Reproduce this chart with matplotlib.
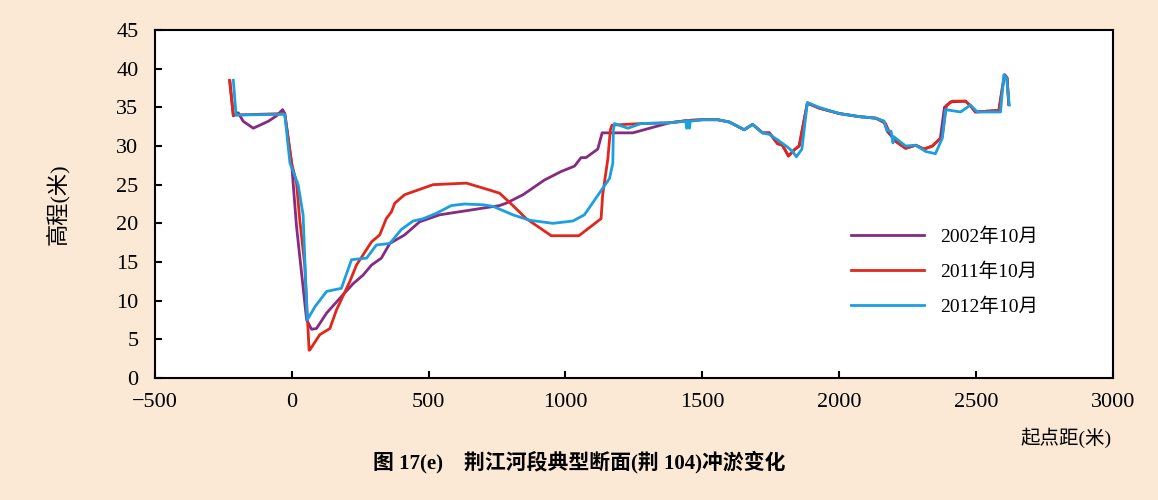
import matplotlib
matplotlib.use("Agg")
import matplotlib.pyplot as plt

plt.rcParams['font.family'] = ['Liberation Serif', 'Noto Sans CJK SC', 'DejaVu Sans']

# 2002年10月
x2002 = [-226, -214, -196, -178, -141, -86, -56, -34, -26, -1, 17, 54, 72, 90, 127, 175,
         224, 260, 291, 327, 358, 412, 467, 540, 650, 759, 783, 845, 923, 984, 1033, 1057,
         1075, 1118, 1134, 1246, 1380, 1447, 1501, 1556, 1599, 1653, 1684, 1720, 1745,
         1775, 1793, 1815, 1836, 1854, 1884, 1927, 2000, 2073, 2134, 2164, 2176, 2207,
         2243, 2280, 2310, 2341, 2370, 2385, 2407, 2462, 2480, 2498, 2584, 2596, 2606,
         2614, 2620]
y2002 = [38.3, 33.9, 34.3, 33.2, 32.3, 33.2, 33.9, 34.7, 34.2, 27.8, 19.6, 7.5, 6.3, 6.4,
         8.4, 10.3, 12.2, 13.3, 14.6, 15.5, 17.4, 18.5, 20.2, 21.1, 21.7, 22.3, 22.6, 23.7,
         25.6, 26.7, 27.4, 28.5, 28.5, 29.6, 31.7, 31.7, 33.0, 33.3, 33.4, 33.4, 33.1,
         32.1, 32.8, 31.7, 31.7, 30.3, 30.1, 28.7, 29.5, 30.0, 35.6, 34.9, 34.2, 33.8,
         33.6, 33.2, 31.9, 30.6, 29.7, 30.1, 29.6, 30.0, 31.0, 35.0, 35.7, 35.8, 35.2,
         34.4, 34.6, 37.5, 39.2, 38.8, 35.4]

# 2011年10月
x2011 = [-228, -214, -26, -1, 17, 29, 47, 63, 65, 102, 139, 163, 212, 236, 291, 321, 345,
         364, 376, 412, 516, 638, 723, 759, 796, 857, 948, 1049, 1130, 1136, 1155, 1164,
         1170, 1276, 1380, 1447, 1501, 1556, 1599, 1653, 1684, 1720, 1745, 1775, 1793,
         1815, 1836, 1854, 1884, 1927, 2000, 2073, 2134, 2170, 2182, 2207, 2243, 2280,
         2310, 2341, 2377, 2392, 2414, 2462, 2480, 2498, 2584, 2596, 2604, 2614, 2620]
y2011 = [38.5, 34.0, 34.2, 27.8, 25.2, 20.4, 14.6, 3.6, 3.6, 5.6, 6.4, 8.8, 12.5, 14.6,
         17.6, 18.5, 20.6, 21.5, 22.6, 23.7, 25.0, 25.2, 24.3, 23.9, 22.7, 20.6, 18.4,
         18.4, 20.6, 23.7, 28.4, 32.1, 32.7, 32.9, 33.0, 33.3, 33.4, 33.4, 33.1, 32.1,
         32.8, 31.7, 31.7, 30.3, 30.1, 28.7, 29.5, 30.0, 35.5, 34.9, 34.2, 33.8, 33.6,
         32.9, 31.9, 30.6, 29.7, 30.1, 29.6, 30.0, 31.2, 35.2, 35.8, 35.8, 35.2, 34.4,
         34.6, 37.2, 39.2, 38.8, 35.4]

# 2012年10月
x2012 = [-214, -204, -26, -7, 23, 41, 56, 84, 127, 181, 218, 273, 309, 358, 400, 443, 480,
         528, 583, 631, 698, 735, 808, 869, 954, 1027, 1069, 1161, 1173, 1175, 1179, 1228,
         1276, 1380, 1440, 1443, 1446, 1450, 1453, 1456, 1501, 1556, 1599, 1653, 1684,
         1720, 1745, 1775, 1810, 1830, 1844, 1864, 1884, 1927, 2000, 2073, 2134, 2164,
         2176, 2190, 2197, 2200, 2243, 2280, 2316, 2352, 2377, 2389, 2444, 2480, 2505,
         2590, 2602, 2612, 2622]
y2012 = [38.5, 34.0, 34.1, 27.8, 25.0, 21.1, 7.5, 9.2, 11.2, 11.6, 15.3, 15.5, 17.2, 17.4,
         19.2, 20.3, 20.6, 21.3, 22.3, 22.5, 22.4, 22.2, 21.1, 20.4, 20.0, 20.3, 21.1,
         25.8, 27.8, 32.1, 32.9, 32.3, 32.9, 33.0, 33.2, 32.3, 33.3, 33.3, 32.3, 33.2,
         33.4, 33.4, 33.1, 32.1, 32.8, 31.7, 31.5, 30.8, 29.9, 29.3, 28.6, 29.6, 35.6,
         35.0, 34.2, 33.8, 33.6, 33.2, 32.0, 31.9, 30.4, 31.2, 30.0, 30.1, 29.3, 29.0,
         31.0, 34.7, 34.4, 35.3, 34.4, 34.4, 39.2, 38.8, 35.3]

labels = ['2002年10月', '2011年10月', '2012年10月']
colors = ['#862A82', '#E1261C', '#1A9FE0']

fig = plt.figure(figsize=(11.58, 5.0), dpi=100)
fig.patch.set_facecolor('#FBE8D5')
ax = fig.add_axes([0.1339, 0.244, 0.827, 0.696])
ax.set_facecolor('white')

for xs, ys, lab, c in zip([x2002, x2011, x2012], [y2002, y2011, y2012], labels, colors):
    ax.plot(xs, ys, color=c, lw=2, label=lab)

ax.set_xlim(-500, 3000)
ax.set_ylim(0, 45)
ax.set_xticks(range(-500, 3001, 500))
ax.set_xticklabels(['\u2212500'] + [str(v) for v in range(0, 3001, 500)])
ax.set_yticks(range(0, 46, 5))
ax.tick_params(direction='in', length=5, width=1.5, labelsize=16)
ax.tick_params(axis='x', pad=11)
ax.tick_params(axis='y', pad=12)
for s in ax.spines.values():
    s.set_linewidth(1.5)

ax.set_ylabel('高程(米)', fontsize=16, labelpad=34)
fig.text(0.96, 0.125, '起点距(米)', ha='right', va='center', fontsize=14)
fig.text(0.5, 0.075, '图 17(e)    荆江河段典型断面(荆 104)冲淤变化', ha='center',
         va='center', fontsize=15, fontweight='bold')

leg = ax.legend(loc='center left', bbox_to_anchor=(0.708, 0.305), frameon=False,
                fontsize=14, handlelength=3.8, handletextpad=0.8, labelspacing=0.85)

fig.savefig('out.png', dpi=100, facecolor=fig.get_facecolor())
